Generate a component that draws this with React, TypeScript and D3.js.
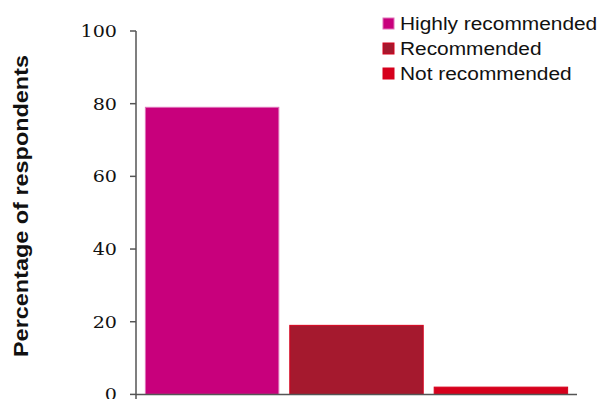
import React from "react";
import * as d3 from "d3";

const categories = ["Highly recommended", "Recommended", "Not recommended"];
const values = [79, 19, 2];
const fills = ["#c8007c", "#a5192e", "#d6001c"];
const strokes = ["#e070b8", "#d6001c", "#d6001c"];
const yTicks = [0, 20, 40, 60, 80, 100];

const W = 603;
const H = 399;
const stretch = 1.16;

export default function App() {
  const x = d3
    .scaleBand<string>()
    .domain(categories)
    .range([136, 577])
    .paddingInner(0.076)
    .paddingOuter(0.065);
  const y = d3.scaleLinear().domain([0, 100]).range([394.4, 31]);

  const axisColor = "#555";

  return (
    <svg
      width={W}
      height={H}
      style={{ position: "absolute", left: 0, top: 0, background: "#fff" }}
    >
      {/* bars */}
      {categories.map((c, i) => (
        <rect
          key={c}
          x={x(c)!}
          y={y(values[i])}
          width={x.bandwidth()}
          height={y(0) - y(values[i])}
          fill={fills[i]}
          stroke={strokes[i]}
          strokeWidth={1}
        />
      ))}

      {/* y axis */}
      <line x1={136} x2={136} y1={y(100)} y2={H} stroke={axisColor} strokeWidth={1.5} />
      {yTicks.map((t) => (
        <g key={t}>
          <line x1={130} x2={136} y1={y(t)} y2={y(t)} stroke={axisColor} strokeWidth={1.5} />
          <text
            transform={`translate(117, ${y(t)}) scale(${stretch}, 1)`}
            dy="0.36em"
            textAnchor="end"
            fontFamily="'DejaVu Serif', serif"
            fontSize={16.5}
            fill="#111"
          >
            {t}
          </text>
        </g>
      ))}

      {/* x axis */}
      <line x1={136} x2={577} y1={y(0)} y2={y(0)} stroke={axisColor} strokeWidth={1.5} />

      {/* y axis title */}
      <text
        transform={`translate(21, 206) rotate(-90)`}
        textAnchor="middle"
        dy="0.35em"
        fontFamily="'Liberation Sans', Arial, sans-serif"
        fontWeight="bold"
        fontSize={21}
        textLength={302}
        lengthAdjust="spacingAndGlyphs"
        fill="#111"
      >
        Percentage of respondents
      </text>

      {/* legend */}
      {categories.map((c, i) => (
        <g key={c} transform={`translate(383, ${18 + i * 25})`}>
          <rect x={0} y={0} width={11} height={11} fill={fills[i]} stroke={strokes[i]} strokeWidth={1} />
          <text
            transform={`translate(17, 6) scale(${stretch}, 1)`}
            dy="0.35em"
            fontFamily="'Liberation Sans', Arial, sans-serif"
            fontSize={18}
            fill="#111"
          >
            {c}
          </text>
        </g>
      ))}
    </svg>
  );
}
